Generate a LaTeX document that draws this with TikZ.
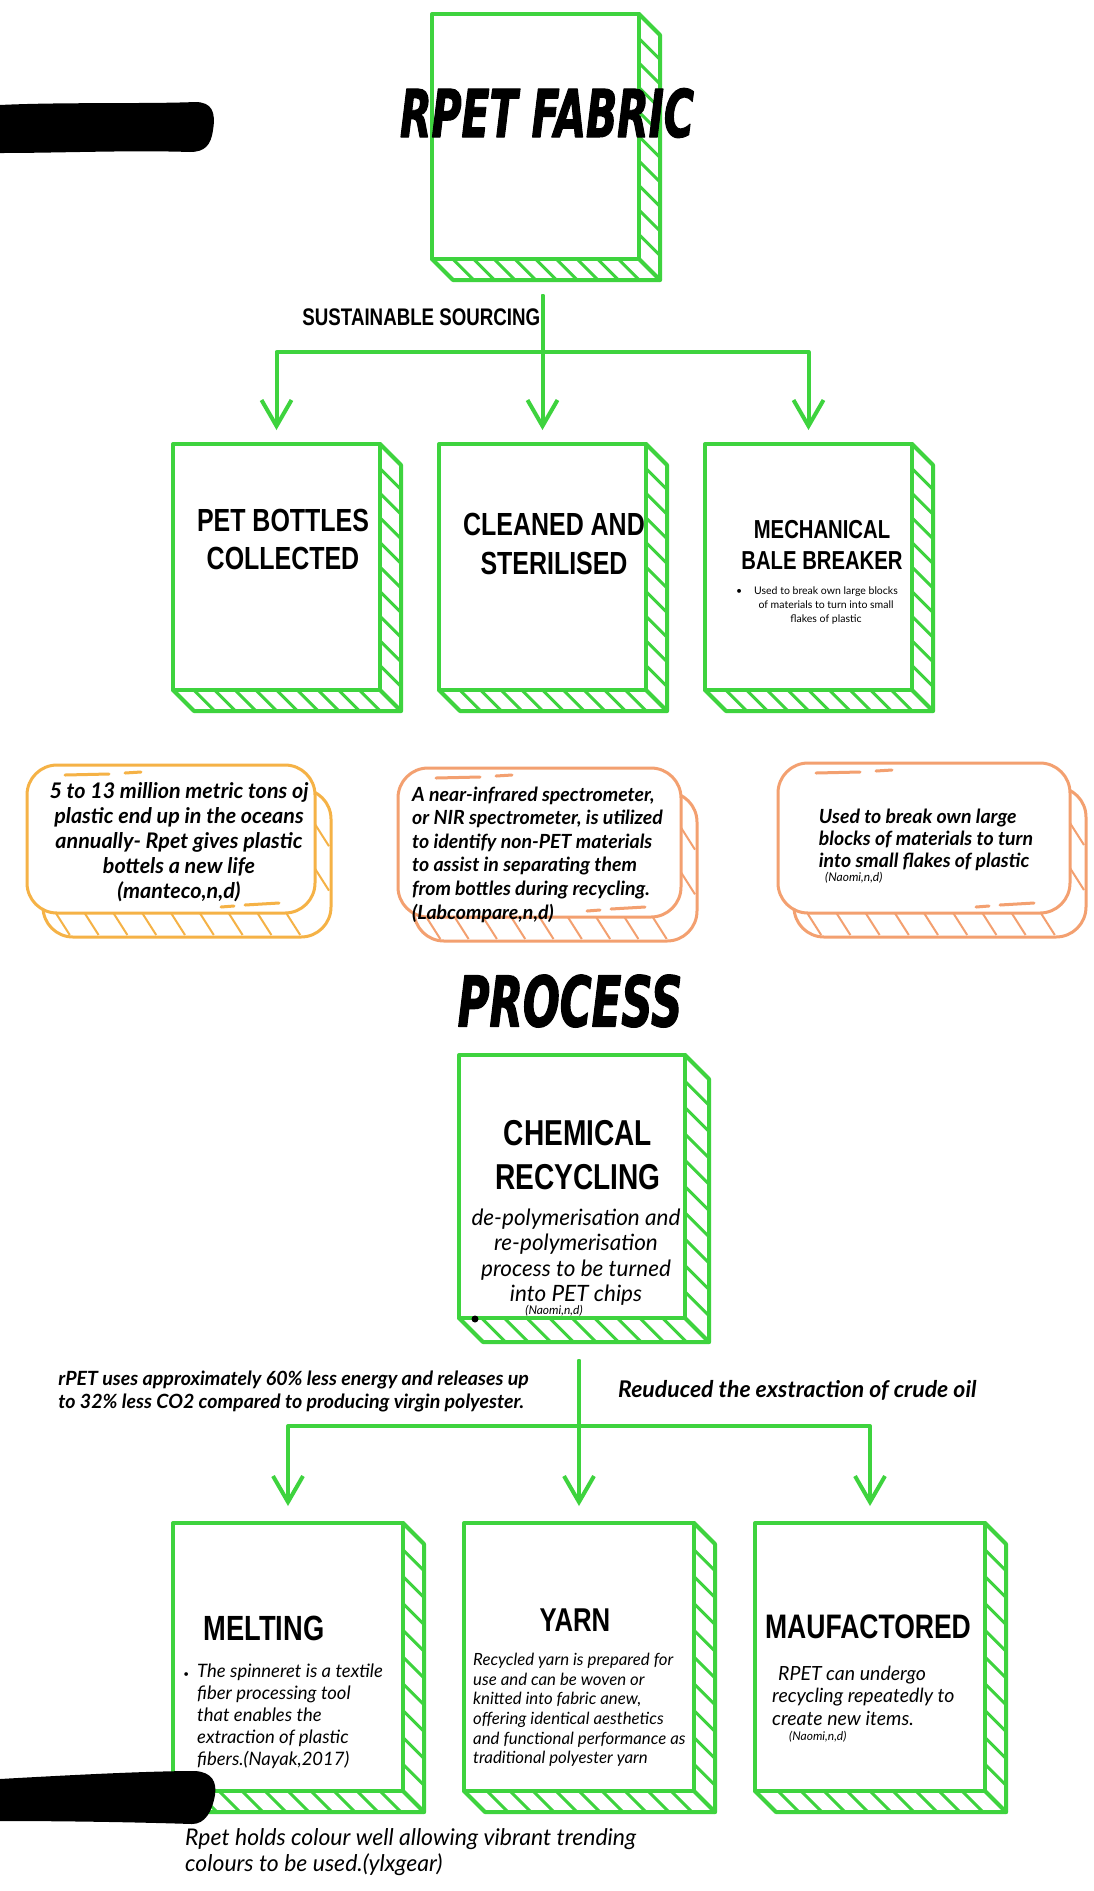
\documentclass[tikz,border=0pt]{standalone}
\usepackage{fontspec}
\setmainfont{Lato}
\newfontfamily\brushfont{DejaVu Sans}[FakeStretch=0.62,FakeBold=1.5]
\newfontfamily\capsfont{Liberation Sans}[FakeStretch=0.78]
\usetikzlibrary{trees,arrows.meta,calc,positioning,backgrounds}

\definecolor{grn}{RGB}{62,211,62}
\definecolor{ornA}{RGB}{245,178,70}
\definecolor{ornB}{RGB}{243,160,112}

\tikzset{
  gbox/.style={draw=grn, line width=4pt, fill=white, outer sep=0pt, inner sep=0pt},
  gside/.style={draw=grn, line width=4pt},
  ghatch/.style={draw=grn, line width=3pt},
  obox/.style={draw=#1, line width=3pt, rounded corners=30pt, fill=white, outer sep=0pt, inner sep=0pt, minimum width=288pt, minimum height=148pt},
  oback/.style={draw=#1, line width=3pt, rounded corners=30pt},
  ohatch/.style={draw=#1, line width=2pt},
  odash/.style={draw=#1, line width=3pt},
  brush/.style={font=\brushfont\bfseries\itshape\fontsize{#1}{#1}\selectfont, inner sep=0pt},
  ttl/.style 2 args={font=\capsfont\bfseries\fontsize{#1}{#2}\selectfont, align=center, inner sep=0pt},
  itxt/.style 2 args={font=\itshape\fontsize{#1}{#2}\selectfont, inner sep=0pt},
  bitxt/.style 2 args={font=\bfseries\itshape\fontsize{#1}{#2}\selectfont, inner sep=0pt}
}

\begin{document}
\begin{tikzpicture}[x=1pt,y=-1pt,grow=down,>={Straight Barb[angle=60:30pt]},line cap=round,line join=round,
  edge from parent/.style={draw=grn,line width=4pt,->}]
  \useasboundingbox (0,0) rectangle (1094,1891);

  %sourcing tree
  \node[gbox, minimum width=207pt, minimum height=245pt] (R) at (535.5,136.5) {}
    [level distance=430.5pt, sibling distance=266pt,
     every child node/.style={gbox, minimum width=207pt, minimum height=246pt, xshift=7pt},
     edge from parent path={($(\tikzparentnode.south)+(7,37)$) -- ($(\tikzparentnode.south)+(7,93)$) -| ($(\tikzchildnode.north)+(0,-14)$)}]
    child {node (A) {}}
    child {node (B) {}}
    child {node (C) {}};

  %process tree
  \node[gbox, minimum width=226pt, minimum height=263pt] (P) at (572,1186.5) {}
    [level distance=470.5pt, sibling distance=291pt,
     every child node/.style={gbox, minimum width=230pt, minimum height=268pt, xshift=7pt},
     edge from parent path={($(\tikzparentnode.south)+(7,43)$) -- ($(\tikzparentnode.south)+(7,108)$) -| ($(\tikzchildnode.north)+(0,-17)$)}]
    child {node (D) {}}
    child {node (E) {}}
    child {node (F) {}};

  %3d sides with hatching
  \foreach \n/\dep in {R/21,A/21,B/21,C/21,P/24,D/21,E/21,F/21}{
    \draw[gside] (\n.north east) -- ++(\dep,\dep) -- ($(\n.south east)+(\dep,\dep)$) -- ($(\n.south west)+(\dep,\dep)$) -- (\n.south west);
    \draw[gside] (\n.south east) -- ++(\dep,\dep);
    \foreach \k in {1,...,9}{
      \draw[ghatch] ($(\n.north east)!\k/10!(\n.south east)$) -- ++(\dep,\dep);
      \draw[ghatch] ($(\n.south west)!\k/10!(\n.south east)$) -- ++(\dep,\dep);
    }
  }

  %labels on the boxes
  \node[brush=66] (Rt) at ($(R.center)+(11.5,-23.5)$) {RPET FABRIC};
  \node[ttl={24}{28}, anchor=east] (Ss) at ($(R.south)+(5,58)$) {SUSTAINABLE SOURCING};
  \node[ttl={32}{38}] (At) at ($(A.center)+(6.5,-28)$) {PET BOTTLES\\COLLECTED};
  \node[ttl={32}{39}] (Bt) at ($(B.center)+(11.5,-23.5)$) {CLEANED AND\\STERILISED};
  \node[ttl={26}{31}] (Ct) at ($(C.center)+(13.5,-22.5)$) {MECHANICAL\\BALE BREAKER};
  \node[font=\fontsize{10.5}{14}\selectfont, align=center, inner sep=0pt] (Cn) at ($(C.center)+(17.5,39)$)
    {\llap{\textbullet\hspace{12pt}}Used to break own large blocks\\of materials to turn into small\\flakes of plastic};

  %fact cards
  \node[obox=ornA] (O1) at (171,839) {};
  \node[obox=ornB, minimum width=283pt, minimum height=149pt] (O2) at (539.5,842.5) {};
  \node[obox=ornB, minimum width=292pt, minimum height=150pt] (O3) at (924,838) {};
  \node[bitxt={21.5}{25}, align=center] (O1t) at ($(O1.center)+(8,3)$)
    {5 to 13 million metric tons oj\\plastic end up in the oceans\\annually- Rpet gives plastic\\bottels a new life\\(manteco,n,d)};
  \node[bitxt={19.5}{23.6}, align=left] (O2t) at ($(O2.center)+(-2,12)$)
    {A near-infrared spectrometer,\\or NIR spectrometer, is utilized\\to identify non-PET materials\\to assist in separating them\\from bottles during recycling.\\(Labcompare,n,d)};
  \node[bitxt={19.5}{22}, align=left] (O3t) at ($(O3.center)+(2,2)$)
    {Used to break own large\\blocks of materials to turn\\into small flakes of plastic};
  \node[itxt={12}{14}, anchor=west] (O3c) at ($(O3.center)+(-99,40)$) {(Naomi,n,d)};

  \begin{scope}[on background layer]
    \fill[white] (0,0) rectangle (1094,1891);
    \foreach \n/\c in {O1/ornA,O2/ornB,O3/ornB}{
      \draw[oback=\c] ($(\n.north west)+(16,24)$) rectangle ($(\n.south east)+(16,24)$);
      \foreach \k in {1,...,9}
        \draw[ohatch=\c] ($(\n.south west)!\k/10!(\n.south east)$) -- ++(14,22);
      \foreach \k in {4,7}
        \draw[ohatch=\c] ($(\n.north east)!\k/10!(\n.south east)$) -- ++(14,22);
    }
  \end{scope}

  %little dashes on the cards
  \foreach \n/\c in {O1/ornA,O2/ornB,O3/ornB}{
    \draw[odash=\c] ($(\n.north west)+(38,10)$) -- ++(44,-1);
    \draw[odash=\c] ($(\n.north west)+(98,8)$) -- ++(16,-1);
    \draw[odash=\c] ($(\n.south east)+(-94,-6)$) -- ++(13,-1);
    \draw[odash=\c] ($(\n.south east)+(-70,-8)$) -- ++(34,-2);
  }

  %process part
  \node[brush=70] (Pr) at ($(P.center)+(-2,-185.5)$) {PROCESS};
  \node[ttl={36}{44}] (Pt) at ($(P.center)+(6,-31.5)$) {CHEMICAL\\RECYCLING};
  \node[itxt={22.5}{25.5}, align=center] (Pn) at ($(P.center)+(4,70.5)$)
    {de-polymerisation and\\re-polymerisation\\process to be turned\\into PET chips};
  \node[itxt={12}{14}] (Pc) at ($(P.center)+(-18,124.5)$) {(Naomi,n,d)};
  \fill (P.south west) ++(16,1) circle (3.5pt);

  \node[bitxt={19.6}{23}, align=left, anchor=east] (Lt) at ($(P.south)+(-43,73)$)
    {rPET uses approximately 60\% less energy and releases up\\to 32\% less CO2 compared to producing virgin polyester.};
  \node[bitxt={23}{26}, anchor=west] (Ro) at ($(P.south)+(46,72)$) {Reuduced the exstraction of crude oil};

  \node[ttl={35}{40}] (Dt) at ($(D.center)+(-24,-29)$) {MELTING};
  \node[itxt={18.5}{22}, align=left, anchor=west] (Dn) at ($(D.center)+(-91,59)$)
    {\llap{{\fontsize{10}{10}\selectfont\textbullet}\hspace{8pt}}The spinneret is a textile\\fiber processing tool\\that enables the\\extraction of plastic\\fibers.(Nayak,2017)};
  \node[ttl={33}{40}] (Et) at ($(E.center)+(-4,-37)$) {YARN};
  \node[itxt={16.8}{19.6}, align=left, anchor=west] (En) at ($(E.center)+(-106,53)$)
    {Recycled yarn is prepared for\\use and can be woven or\\knitted into fabric anew,\\offering identical aesthetics\\and functional performance as\\traditional polyester yarn};
  \node[ttl={34}{40}] (Ft) at ($(F.center)+(-2,-30)$) {MAUFACTORED};
  \node[itxt={19.5}{22.5}, align=left, anchor=west] (Fn) at ($(F.center)+(-98,38.5)$)
    {\hspace*{6pt}RPET can undergo\\recycling repeatedly to\\create new items.};
  \node[itxt={12}{14}, anchor=west] (Fc) at ($(F.center)+(-81,80)$) {(Naomi,n,d)};

  \node[itxt={23}{26}, align=left, anchor=west] (Nt) at ($(D.south)+(-103,61)$)
    {Rpet holds colour well allowing vibrant trending\\colours to be used.(ylxgear)};

  %marker strokes
  \fill (0,105) .. controls (60,102) and (150,104) .. (195,102) .. controls (212,102) and (216,112) .. (213,130)
    .. controls (211,145) and (205,152) .. (190,152) .. controls (130,150) and (60,153) .. (0,153) -- cycle;
  \fill (0,1779) .. controls (70,1775) and (150,1771) .. (195,1771) .. controls (212,1772) and (217,1782) .. (215,1795)
    .. controls (212,1812) and (205,1824) .. (192,1824) .. controls (130,1822) and (60,1821) .. (0,1821) -- cycle;
\end{tikzpicture}
\end{document}
